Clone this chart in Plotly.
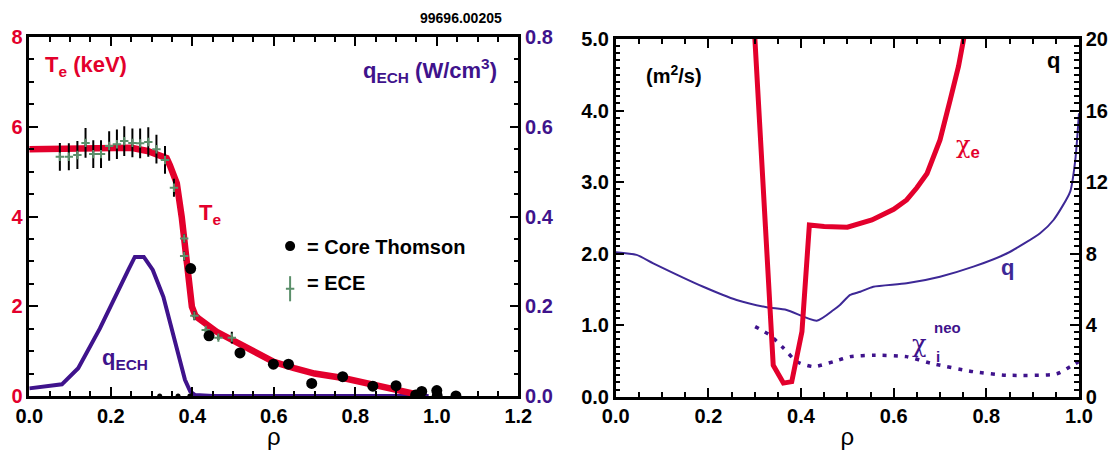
import plotly.graph_objects as go

RED = "#e3002c"
PURPLE = "#3f138c"
QPURPLE = "#3d2896"
GREEN = "#5b8f6a"
FONT = "Liberation Sans"

# ---------------- left panel data ----------------
te_rho = [0.0, 0.05, 0.10, 0.15, 0.20, 0.25, 0.29, 0.32, 0.337, 0.345, 0.355, 0.362, 0.374,
          0.382, 0.390, 0.399, 0.407, 0.415, 0.46, 0.517, 0.542, 0.60, 0.65, 0.70, 0.77,
          0.85, 0.90, 0.93, 0.96]
te_val = [5.50, 5.51, 5.52, 5.54, 5.55, 5.53, 5.46, 5.38, 5.30, 5.14, 4.95, 4.74, 3.99,
          3.25, 2.51, 1.99, 1.80, 1.73, 1.43, 1.17, 1.06, 0.76, 0.62, 0.50, 0.40,
          0.25, 0.14, 0.08, 0.02]

qech_rho = [0.0, 0.08, 0.12, 0.173, 0.243, 0.259, 0.281, 0.303, 0.329, 0.362, 0.382,
            0.395, 0.407, 0.45, 0.98]
qech_val = [0.017, 0.026, 0.062, 0.150, 0.281, 0.310, 0.310, 0.281, 0.221, 0.110, 0.036,
            0.010, 0.002, 0.0, 0.0]

ts_rho = [0.396, 0.441, 0.517, 0.599, 0.636, 0.693, 0.769, 0.843, 0.900, 0.948, 0.963,
          1.000, 1.001, 1.047]
ts_te = [2.84, 1.34, 0.96, 0.71, 0.71, 0.28, 0.43, 0.22, 0.23, 0.02, 0.10, 0.12, 0.0, 0.0]

ts_small_rho = [0.32, 0.365, 0.394]
ts_small_te = [0.0, 0.0, 0.0]

ece_rho = [0.075, 0.097, 0.118, 0.138, 0.157, 0.176, 0.196, 0.215, 0.233, 0.253, 0.272,
           0.292, 0.312, 0.333, 0.355, 0.380, 0.380, 0.405, 0.433, 0.464, 0.497]
ece_te = [5.33, 5.33, 5.37, 5.64, 5.39, 5.39, 5.57, 5.61, 5.68, 5.64, 5.63,
          5.66, 5.50, 5.26, 4.64, 3.51, 3.12, 1.79, 1.47, 1.30, 1.30]
ece_err = [0.31, 0.30, 0.31, 0.33, 0.31, 0.31, 0.33, 0.33, 0.33, 0.32, 0.33,
           0.33, 0.32, 0.31, 0.20, 0.10, 0.10, 0.10, 0.05, 0.05, 0.13]

# legend keys (in Te-axis data units)
leg_rho = [0.64]
leg_ts_te = [3.34]
leg_ece_te = [2.39]
leg_ece_err = [0.28]

# ---------------- right panel data ----------------
chie_rho = [0.300, 0.340, 0.362, 0.380, 0.402, 0.418, 0.45, 0.50, 0.553, 0.60, 0.628,
            0.65, 0.672, 0.70, 0.722, 0.74, 0.751, 0.76]
chie_val = [5.05, 0.44, 0.19, 0.21, 0.91, 2.40, 2.38, 2.37, 2.47, 2.62, 2.75,
            2.92, 3.12, 3.59, 4.15, 4.62, 5.00, 5.30]

q_rho = [0.0, 0.045, 0.081, 0.189, 0.261, 0.326, 0.369, 0.434, 0.47, 0.484, 0.506, 0.528,
         0.556, 0.628, 0.70, 0.772, 0.845, 0.916, 0.945, 0.981, 0.992, 1.0]
q_val = [8.08, 7.93, 7.46, 6.15, 5.41, 5.00, 4.85, 4.25, 4.85, 5.13, 5.69, 5.87,
         6.15, 6.34, 6.71, 7.27, 8.02, 9.14, 9.88, 11.47, 13.24, 15.85]

chii_rho = [0.301, 0.333, 0.362, 0.391, 0.427, 0.47, 0.506, 0.556, 0.628, 0.679, 0.772,
            0.845, 0.952, 0.981, 0.999]
chii_val = [0.98, 0.86, 0.68, 0.49, 0.42, 0.49, 0.56, 0.58, 0.56, 0.47, 0.35,
            0.30, 0.32, 0.42, 0.49]

fig = go.Figure()

# left: qECH on base axis y (right side), Te on overlay y2 (left side)
fig.add_trace(go.Scatter(x=qech_rho, y=qech_val, mode="lines", xaxis="x", yaxis="y",
                         line=dict(color=PURPLE, width=4), showlegend=False))
fig.add_trace(go.Scatter(x=te_rho, y=te_val, mode="lines", xaxis="x", yaxis="y2",
                         line=dict(color=RED, width=6.5), showlegend=False))
fig.add_trace(go.Scatter(x=ece_rho, y=ece_te, mode="markers", xaxis="x", yaxis="y2",
                         marker=dict(symbol="cross-thin", size=6, line=dict(color=GREEN, width=2)),
                         error_y=dict(type="data", array=ece_err, color="black", thickness=2, width=0),
                         showlegend=False))
fig.add_trace(go.Scatter(x=ts_rho, y=ts_te, mode="markers", xaxis="x", yaxis="y2",
                         marker=dict(symbol="circle", size=11, color="black"), showlegend=False))
fig.add_trace(go.Scatter(x=ts_small_rho, y=ts_small_te, mode="markers", xaxis="x", yaxis="y2",
                         marker=dict(symbol="circle", size=5, color="black"), showlegend=False,
                         cliponaxis=False))
fig.add_trace(go.Scatter(x=leg_rho, y=leg_ts_te, mode="markers", xaxis="x", yaxis="y2",
                         marker=dict(symbol="circle", size=10, color="black"), showlegend=False))
fig.add_trace(go.Scatter(x=leg_rho, y=leg_ece_te, mode="markers", xaxis="x", yaxis="y2",
                         marker=dict(symbol="line-ew", size=6, line=dict(color=GREEN, width=2)),
                         error_y=dict(type="data", array=leg_ece_err, color=GREEN, thickness=2, width=0),
                         showlegend=False))

# right: q on base axis y3 (right side), chi on overlay y4 (left side)
fig.add_trace(go.Scatter(x=q_rho, y=q_val, mode="lines", xaxis="x2", yaxis="y3",
                         line=dict(color=QPURPLE, width=2, shape="spline", smoothing=0.6),
                         showlegend=False))
fig.add_trace(go.Scatter(x=chii_rho, y=chii_val, mode="lines", xaxis="x2", yaxis="y4",
                         line=dict(color=PURPLE, width=3.5, dash="4px,7px", shape="spline", smoothing=0.6),
                         showlegend=False))
fig.add_trace(go.Scatter(x=chie_rho, y=chie_val, mode="lines", xaxis="x2", yaxis="y4",
                         line=dict(color=RED, width=5), showlegend=False))

# the page body margin is removed (post_script), so the figure fills the window
W, H = 1109, 450


def fx(px):
    return px / W


def fy(py):
    return 1 - py / H


lx0, lx1 = fx(29.3), fx(518.3)
ly0, ly1 = fy(396), fy(37)
rx0, rx1 = fx(615.7), fx(1079)
ry0, ry1 = fy(396.7), fy(39)

TICK_SIZE = 20
tickfont = dict(family=FONT, size=TICK_SIZE, color="black", weight="bold")


def xax(domain, rng, anchor, minor_dt):
    return dict(domain=domain, range=rng, anchor=anchor, dtick=0.2, tick0=0, tickformat=".1f",
                ticks="inside", ticklen=9, tickwidth=2, tickcolor="black",
                showline=True, linewidth=2.5, linecolor="black", mirror="ticks",
                showgrid=False, zeroline=False, tickfont=tickfont, automargin=False,
                minor=dict(dtick=minor_dt, tick0=0, ticks="inside", ticklen=5, tickwidth=2,
                           tickcolor="black", showgrid=False),
                title=dict(text="ρ", font=dict(family=FONT, size=24, color="black"),
                           standoff=2))


def yax(domain, rng, anchor, dt, minor_dt, side, color, fmt, overlaying=None):
    d = dict(domain=domain, range=rng, anchor=anchor, dtick=dt, tick0=0, tickformat=fmt,
             side=side, ticks="inside", ticklen=9, tickwidth=2, tickcolor="black",
             showline=True, linewidth=2.5, linecolor="black",
             showgrid=False, zeroline=False, automargin=False,
             tickfont=dict(family=FONT, size=TICK_SIZE, color=color, weight="bold"),
             minor=dict(dtick=minor_dt, tick0=0, ticks="inside", ticklen=5, tickwidth=2,
                        tickcolor="black", showgrid=False))
    if overlaying:
        d["overlaying"] = overlaying
    return d


fig.update_layout(
    width=W, height=H,
    margin=dict(l=0, r=0, t=0, b=0, autoexpand=False),
    paper_bgcolor="white", plot_bgcolor="white",
    showlegend=False,
    xaxis=xax([lx0, lx1], [0, 1.2], "y", 0.05),
    yaxis=yax([ly0, ly1], [0, 0.8], "x", 0.2, 0.05, "right", PURPLE, ".1f"),
    yaxis2=yax([ly0, ly1], [0, 8], "x", 2, 0.5, "left", RED, "d", overlaying="y"),
    xaxis2=xax([rx0, rx1], [0, 1.0], "y3", 0.05),
    yaxis3=yax([ry0, ry1], [0, 20], "x2", 4, 0.4, "right", "black", "d"),
    yaxis4=yax([ry0, ry1], [0, 5], "x2", 1, 0.1, "left", "black", ".1f", overlaying="y3"),
)


def ann(text, x, y, xref, yref, size, color, xanchor="left", yanchor="middle", b=True):
    f = dict(family=FONT, size=size, color=color)
    if b:
        f["weight"] = "bold"
    fig.add_annotation(text=text, x=x, y=y, xref=xref, yref=yref, showarrow=False,
                       xanchor=xanchor, yanchor=yanchor, font=f)


CHI = "<span style='font-family:DejaVu Serif;font-weight:normal'>χ</span>"

# left panel labels
ann("T<sub>e</sub> (keV)", 0.034, 7.35, "x", "y2", 22, RED)
ann("q<sub>ECH</sub> (W/cm<sup>3</sup>)", 1.152, 7.25, "x", "y2", 22, PURPLE, xanchor="right")
ann("99696.00205", fx(461), fy(18.3), "paper", "paper", 14, "black", xanchor="center")
ann("T<sub>e</sub>", 0.411, 4.05, "x", "y2", 22, RED)
ann("q<sub>ECH</sub>", 0.1735, 0.82, "x", "y2", 22, PURPLE)
ann("= Core Thomson", 0.6766, 3.325, "x", "y2", 20, "black")
ann("= ECE", 0.6766, 2.51, "x", "y2", 20, "black")

# right panel labels
ann("(m<sup>2</sup>/s)", 0.061, 4.50, "x2", "y4", 20, "black")
ann("q", 0.946, 4.70, "x2", "y4", 22, "black", xanchor="center")
ann(CHI + "<sub>e</sub>", 0.731, 3.50, "x2", "y4", 24, RED)
ann("q", 0.845, 1.80, "x2", "y4", 22, QPURPLE, xanchor="center")
ann(CHI, 0.636, 0.74, "x2", "y4", 24, PURPLE)
ann("neo", 0.683, 0.97, "x2", "y4", 15, PURPLE)
ann("i", 0.686, 0.56, "x2", "y4", 15, PURPLE)

fig.write_html("out.html", config={"displayModeBar": False},
               post_script="document.body.style.margin='0';document.body.style.overflow='hidden';")
